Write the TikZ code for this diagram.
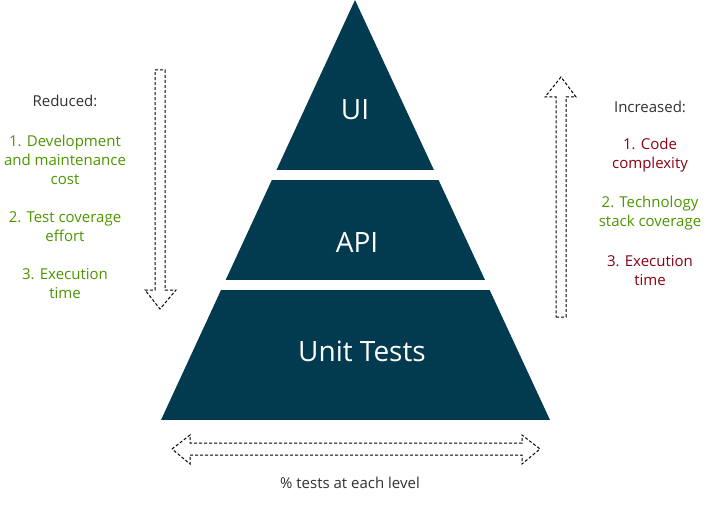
\documentclass[tikz,border=0pt]{standalone}
\usepackage{fontspec}
\setmainfont{Open Sans}
\begin{document}
\begin{tikzpicture}[x=1pt,y=-1pt,
  band/.style={fill=pyr},
  blockarrow/.style={draw=black,line width=1pt,dash pattern=on 3pt off 2pt,fill=white},
  lvl/.style={text=white,font=\fontsize{28}{32}\selectfont},
  side/.style={align=center,font=\fontsize{15}{19}\selectfont,inner sep=0pt},
]
\definecolor{pyr}{RGB}{2,58,80}
\definecolor{grn}{RGB}{77,150,0}
\definecolor{drd}{RGB}{140,0,20}
\definecolor{dgr}{RGB}{50,50,50}
\useasboundingbox (0,0) rectangle (711,505);
\fill[white] (0,0) rectangle (711,505);
% pyramid
\begin{scope}
  \clip (355,0) -- (550,420) -- (161,420) -- cycle;
  \fill[band] (100,-5) rectangle (600,170);
  \fill[band] (100,180) rectangle (600,280);
  \fill[band] (100,290) rectangle (600,420);
\end{scope}
\node[lvl] (ui) at (355,110) {UI};
\node[lvl] (api) at (357,242) {API};
\node[lvl] (unit) at (362,351) {Unit Tests};
% arrows
\draw[blockarrow] (155,70) -- (165,70) -- (165,290) -- (176,290) -- (160,309) -- (145,290) -- (155,290) -- cycle;
\draw[blockarrow] (556,317) -- (566,317) -- (566,97) -- (576,97) -- (561,77) -- (545,97) -- (556,97) -- cycle;
\draw[blockarrow] (172,449) -- (190,435) -- (190,443) -- (522,443) -- (522,435) -- (540,449) -- (522,464) -- (522,455) -- (190,455) -- (190,464) -- cycle;
% left text
\node[side,text=dgr] (red) at (65,101) {Reduced:};
\node[side,text=grn] (l1) at (65,160) {1. Development\\and maintenance\\cost};
\node[side,text=grn] (l2) at (65,226.5) {2. Test coverage\\effort};
\node[side,text=grn] (l3) at (65,283.5) {3. Execution\\time};
% right text
\node[side,text=dgr] (inc) at (650,107) {Increased:};
\node[side,text=drd] (r1) at (650,155.5) {1. Code\\complexity};
\node[side,text=grn] (r2) at (650,213) {2. Technology\\stack coverage};
\node[side,text=drd] (r3) at (650,270.5) {3. Execution\\time};
% bottom
\node[side,text=dgr] (pct) at (350,483) {\% tests at each level};
\end{tikzpicture}
\end{document}
